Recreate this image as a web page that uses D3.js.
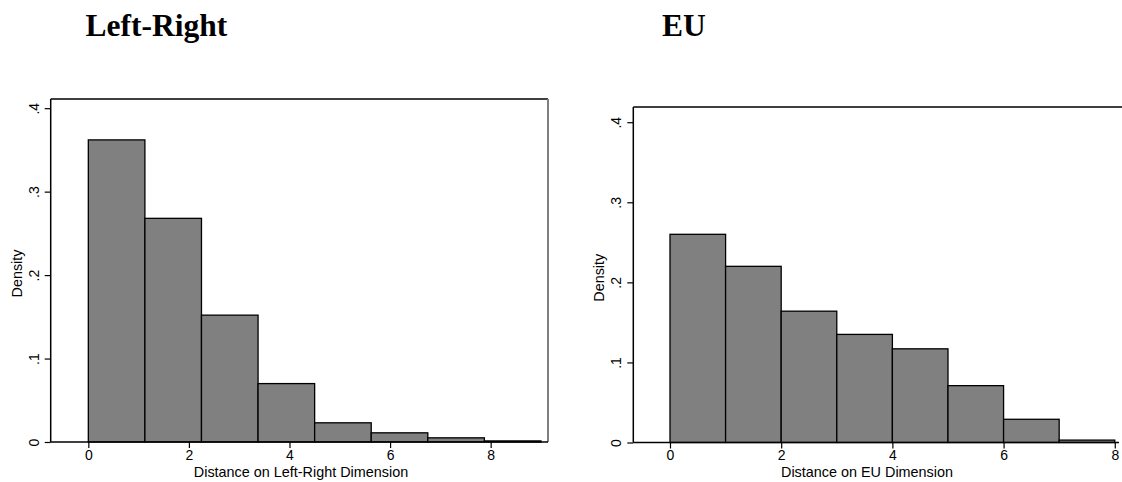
<!DOCTYPE html>
<html><head><meta charset="utf-8">
<script src="https://cdn.jsdelivr.net/npm/d3@7"></script>
<style>body{margin:0;background:#fff}svg{display:block}</style>
</head><body>
<svg id="c" width="1122" height="482"></svg>
<script>
// Left-Right panel
const lrBinStart = 0, lrBinWidth = 1.125;
const lrDensity = [0.362, 0.268, 0.152, 0.070, 0.023, 0.011, 0.005, 0.0013];
// EU panel
const euBinStart = 0, euBinWidth = 1;
const euDensity = [0.260, 0.220, 0.164, 0.135, 0.117, 0.071, 0.029, 0.003];
const xTicks = [0, 2, 4, 6, 8];
const yTicks = [0, 0.1, 0.2, 0.3, 0.4];
const yTickLabels = ["0", ".1", ".2", ".3", ".4"];

const svg = d3.select("#c");
const font = "Liberation Sans, Arial, sans-serif";

function panel(cfg) {
  const g = svg.append("g");
  const x = d3.scaleLinear().domain(cfg.xDomain).range([cfg.left, cfg.right]);
  const y = d3.scaleLinear().domain(cfg.yDomain).range([cfg.bottom, cfg.top]);
  const bins = cfg.data.map((d, i) => ({x0: cfg.binStart + i * cfg.binWidth, x1: cfg.binStart + (i + 1) * cfg.binWidth, v: d}));
  g.append("line").attr("x1", cfg.left).attr("x2", cfg.frameRight).attr("y1", cfg.top).attr("y2", cfg.top)
    .attr("stroke", "#000").attr("stroke-width", 1.5);
  if (cfg.rightBorder) {
    g.append("line").attr("x1", cfg.right).attr("x2", cfg.right).attr("y1", cfg.top).attr("y2", cfg.bottom)
      .attr("stroke", "#808080").attr("stroke-width", 2);
  }
  g.selectAll("rect.bar").data(bins).enter().append("rect")
    .attr("x", d => x(d.x0)).attr("width", d => x(d.x1) - x(d.x0))
    .attr("y", d => y(d.v)).attr("height", d => y(0) - y(d.v))
    .attr("fill", "#808080").attr("stroke", "#000").attr("stroke-width", 1.3);
  const xa = g.append("g").attr("transform", `translate(0,${cfg.bottom})`)
    .call(d3.axisBottom(x).tickValues(xTicks).tickFormat(d3.format("d")).tickSize(6).tickSizeOuter(0));
  xa.select(".domain").attr("stroke-width", 1.5).attr("d", `M${cfg.left},0H${cfg.axisRight}`);
  xa.selectAll(".tick line").attr("stroke-width", 1.2);
  xa.selectAll("text").attr("font-family", font).attr("font-size", 14).attr("fill", "#000")
    .attr("y", 8).attr("dy", "0.71em");
  const ya = g.append("g").attr("transform", `translate(${cfg.left},0)`)
    .call(d3.axisLeft(y).tickValues(yTicks).tickFormat((d, i) => yTickLabels[i]).tickSize(6).tickSizeOuter(0));
  ya.select(".domain").attr("stroke-width", 1.5).attr("d", `M0,${cfg.top}V${cfg.bottom}`);
  ya.selectAll(".tick line").attr("stroke-width", 1.2);
  ya.selectAll("text").attr("font-family", font).attr("font-size", 14).attr("fill", "#000")
    .attr("text-anchor", "middle").attr("x", 0).attr("dy", 0)
    .attr("transform", "translate(-12,0) rotate(-90)");
  g.append("text").attr("x", cfg.xtx).attr("y", 477).attr("text-anchor", "middle")
    .attr("font-family", font).attr("font-size", 14.4).text(cfg.xTitle);
  g.append("text").attr("transform", `translate(${cfg.left - 29},${(cfg.top + cfg.bottom) / 2 + 3}) rotate(-90)`)
    .attr("text-anchor", "middle").attr("font-family", font).attr("font-size", 14.4).text("Density");
  g.append("text").attr("x", cfg.titleX).attr("y", 36).attr("font-family", "Liberation Serif, Times New Roman, serif")
    .attr("font-weight", "bold").attr("font-size", 31.5).text(cfg.title);
}

panel({
  left: 50.7, right: 548, frameRight: 548, axisRight: 548, top: 99, bottom: 442,
  xDomain: [-0.748, 9.14], yDomain: [0, 0.411],
  data: lrDensity, binStart: lrBinStart, binWidth: lrBinWidth,
  xTitle: "Distance on Left-Right Dimension", xtx: 301, title: "Left-Right", titleX: 85.5, rightBorder: true
});
panel({
  left: 633.3, right: 1122, frameRight: 1122, axisRight: 1119, top: 107, bottom: 442.5,
  xDomain: [-0.66, 8.13], yDomain: [0, 0.419],
  data: euDensity, binStart: euBinStart, binWidth: euBinWidth,
  xTitle: "Distance on EU Dimension", xtx: 867, title: "EU", titleX: 662, rightBorder: false
});
</script>
</body></html>
